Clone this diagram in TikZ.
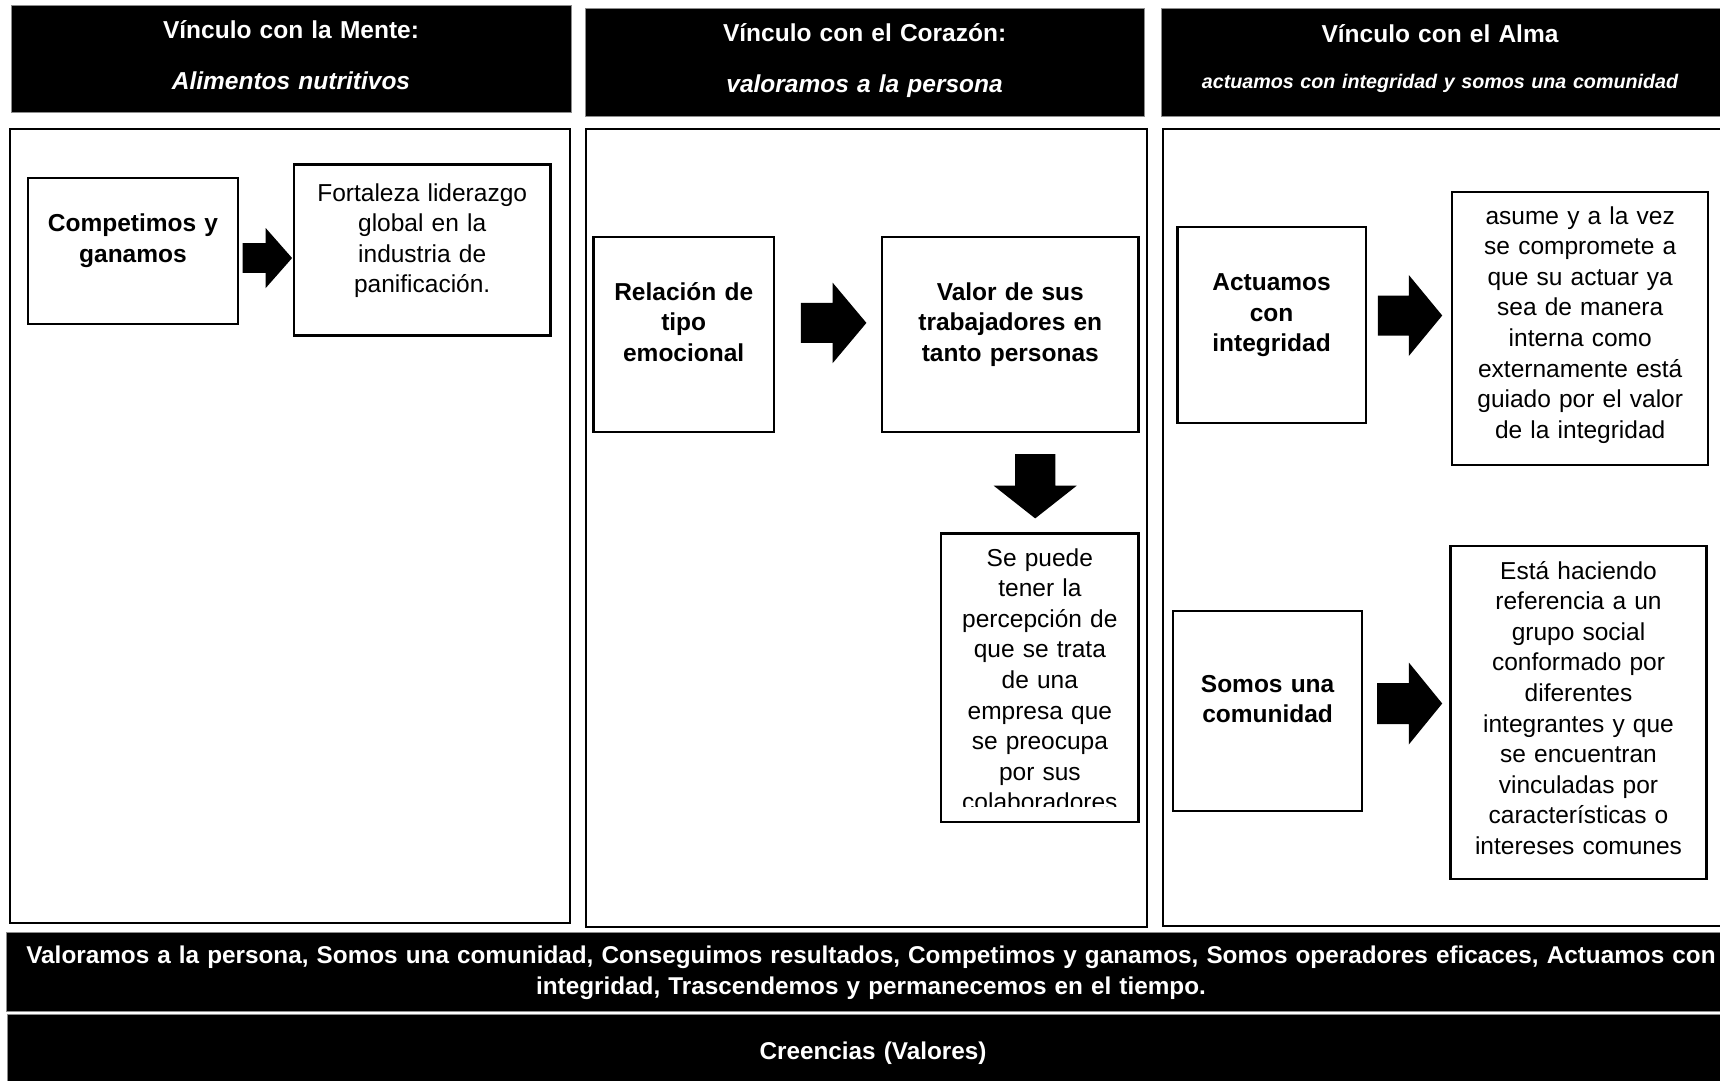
\documentclass[tikz,border=0pt]{standalone}
\usepackage{fontspec}
\setmainfont{Liberation Sans}
\usetikzlibrary{calc}

\tikzset{
  pics/blockarrow/.style n args={4}{code={
    % #1 shaft length, #2 total length, #3 shaft half width, #4 head half width
    \fill[black] (0,-#3) -- (#1,-#3) -- (#1,-#4) -- (#2,0) -- (#1,#4) -- (#1,#3) -- (0,#3) -- cycle;
  }}
}

\begin{document}
\begin{tikzpicture}[x=1pt,y=-1pt,
  panel/.style={draw=black, line width=2.4pt, fill=white, anchor=north west, inner sep=0pt},
  headbox/.style={fill=black, draw=black!45, line width=1.2pt, anchor=north west, inner sep=0pt},
  box/.style={draw=black, line width=2.4pt, fill=white, anchor=north west, inner sep=0pt},
  txt/.style={align=center, text width=#1, anchor=base, inner sep=0pt,
    font=\fontsize{24.5}{30.6}\selectfont},
  btxt/.style={txt=#1, font=\fontsize{24.5}{30.6}\selectfont\bfseries},
  htitle/.style={txt=540, text=white, font=\fontsize{24.5}{30}\selectfont\bfseries},
  hsub/.style={txt=540, text=white, font=\fontsize{#1}{30}\selectfont\bfseries\itshape},
  bandtxt/.style={txt=1720, text=white, font=\fontsize{24.3}{31.5}\selectfont\bfseries},
]
\useasboundingbox (0,0) rectangle (1720,1080);

% column panels
\node[panel, minimum width=560, minimum height=794] (p1) at (9,128) {};
\node[panel, minimum width=560.5, minimum height=797.7] (p2) at (585,128) {};
\node[panel, minimum width=559, minimum height=797] (p3) at (1162,128) {};

% column headers
\node[headbox, minimum width=560, minimum height=107] (h1) at (11,5) {};
\node[headbox, minimum width=559, minimum height=108] (h2) at (585,8) {};
\node[headbox, minimum width=560, minimum height=108] (h3) at (1161,8) {};

\node[htitle] (h1a) at (291,38.3) {Vínculo con la Mente:};
\node[hsub=24.5] (h1b) at (291,89.3) {Alimentos nutritivos};
\node[htitle] (h2a) at (864.6,41.7) {Vínculo con el Corazón:};
\node[hsub=24.5] (h2b) at (864.6,92.7) {valoramos a la persona};
\node[htitle] (h3a) at (1440,42.7) {Vínculo con el Alma};
\node[hsub=19.7] (h3b) at (1440,88.3) {actuamos con integridad y somos una comunidad};

% bottom bands
\node[headbox, minimum width=1724, minimum height=78.7] (v1) at (6,932) {};
\node[headbox, minimum width=1723, minimum height=76] (v2) at (7,1014) {};
\node[bandtxt] (v1t) at (871,963) {Valoramos a la persona, Somos una comunidad, Conseguimos resultados, Competimos y ganamos, Somos operadores eficaces, Actuamos con\\integridad, Trascendemos y permanecemos en el tiempo.};
\node[bandtxt] (v2t) at (873,1059.3) {Creencias (Valores)};

% Mente
\node[box, minimum width=209.5, minimum height=145.7] (c1) at (27,177) {};
\node[box, minimum width=256.4, minimum height=171] (f1) at (292.8,163.3) {};
\node[btxt=200] at ($(c1.north)+(0,54.5)$) {Competimos y\\ganamos};
\node[txt=250] at ($(f1.north)+(0,37.7)$) {Fortaleza liderazgo\\global en la\\industria de\\panificación.};
\pic at ($(c1.east)+(3.8,7)$) {blockarrow={23}{49.4}{14.85}{30}};

% Corazón
\node[box, minimum width=180.6, minimum height=194.7] (r2) at (592.2,236) {};
\node[box, minimum width=256.2, minimum height=194.7] (w2) at (881,236) {};
\node[box, minimum width=197.3, minimum height=288.2] (s2) at (940,532.3) {};
\node[btxt=175] at ($(r2.north)+(0,64)$) {Relación de\\tipo\\emocional};
\node[btxt=250] at ($(w2.north)+(0,64)$) {Valor de sus\\trabajadores en\\tanto personas};
\begin{scope}
  % the last line of this box is cut off by its lower edge
  \clip ($(s2.north west)+(2,2)$) rectangle ($(s2.north east)+(-2,274)$);
  \node[txt=195] at ($(s2.north)+(0,33.7)$) {Se puede\\tener la\\percepción de\\que se trata\\de una\\empresa que\\se preocupa\\por sus\\colaboradores};
\end{scope}
\pic at ($(r2.east)+(25.7,-11.65)$) {blockarrow={31.7}{65.5}{20}{40.3}};
\pic[rotate=-90] at ($(w2.south)+(24.9,21)$) {blockarrow={31.6}{64.3}{20.15}{41.5}};

% Alma
\node[box, minimum width=188.3, minimum height=195.7] (a3) at (1176.2,226) {};
\node[box, minimum width=256, minimum height=273] (g3) at (1451,191) {};
\node[box, minimum width=189.2, minimum height=200] (m3) at (1171.8,610) {};
\node[box, minimum width=256, minimum height=332.7] (e3) at (1449.3,545) {};
\node[btxt=185] at ($(a3.north)+(0,64.7)$) {Actuamos\\con\\integridad};
\node[txt=250] at ($(g3.north)+(0,33)$) {asume y a la vez\\se compromete a\\que su actuar ya\\sea de manera\\interna como\\externamente está\\guiado por el valor\\de la integridad};
\node[btxt=185] at ($(m3.north)+(0,82.3)$) {Somos una\\comunidad};
\node[txt=250] at ($(e3.north)+(0,34)$) {Está haciendo\\referencia a un\\grupo social\\conformado por\\diferentes\\integrantes y que\\se encuentran\\vinculadas por\\características o\\intereses comunes};
\pic at ($(a3.east)+(11,-9.55)$) {blockarrow={30.9}{64.3}{20}{40.5}};
\pic at ($(m3.east)+(13.7,-7.7)$) {blockarrow={31.7}{65.1}{20.5}{41}};
\end{tikzpicture}
\end{document}
